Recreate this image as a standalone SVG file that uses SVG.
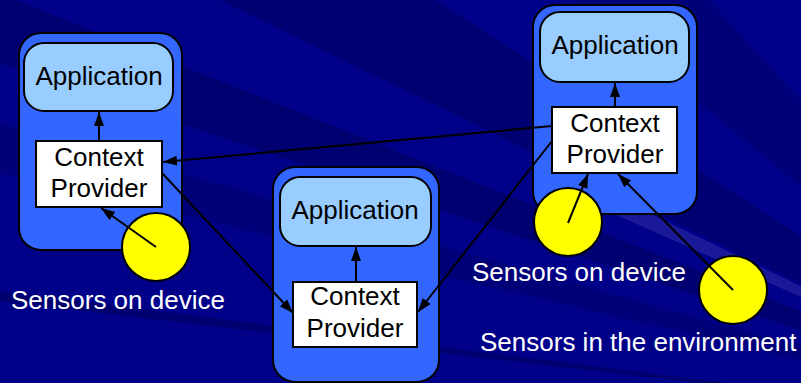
<svg xmlns="http://www.w3.org/2000/svg" width="801" height="383" viewBox="0 0 801 383">
<style>
.dev{fill:#3366FF;stroke:#000;stroke-width:2}
.app{fill:#99CCFF;stroke:#000;stroke-width:2}
.cp{fill:#FFFFFF;stroke:#000;stroke-width:2}
.sen{fill:#FFFF00;stroke:#000;stroke-width:2}
.t{font-family:"Liberation Sans",Arial,sans-serif;font-size:26px;fill:#000;text-anchor:middle}
.lbl{font-family:"Liberation Sans",Arial,sans-serif;font-size:26px;fill:#FFFFFF}
.con line{stroke:#000;stroke-width:2;marker-end:url(#ah)}
</style>
<defs>
<marker id="ah" markerUnits="userSpaceOnUse" markerWidth="15" markerHeight="11" refX="14" refY="5" orient="auto">
<path d="M0,0 L14,5 L0,10 Z" fill="#000"/>
</marker>
</defs>
<g id="background">
<rect width="801" height="383" fill="#000088"/>
<polygon points="1100,430 -10,-10 -10,60" fill="#000066" opacity="0.7"/>
<polygon points="1100,430 200,-10 420,-10" fill="#000066" opacity="0.6"/>
<polygon points="1100,430 -10,120 -10,170" fill="#000070" opacity="0.6"/>
<polygon points="1100,430 560,-10 700,-10" fill="#000070" opacity="0.6"/>
<polygon points="1100,430 -10,290 -10,300" fill="#000060" opacity="0.6"/>
<polygon points="1100,430 560,190 580,180" fill="#6666CC" opacity="0.25"/>
<polygon points="1100,430 820,-10 900,-10" fill="#000070" opacity="0.5"/>
</g>
<g id="device-left">
<rect class="dev" x="19" y="33" width="163" height="217" rx="22"/>
</g>
<g id="device-middle">
<rect class="dev" x="273" y="167" width="166" height="215" rx="22"/>
</g>
<g id="device-right">
<rect class="dev" x="533" y="5" width="164" height="209" rx="22"/>
</g>
<g id="app-left">
<rect class="app" x="24" y="43" width="149" height="68" rx="20"/>
<text class="t" x="99" y="85">Application</text>
</g>
<g id="app-middle">
<rect class="app" x="280" y="177" width="151" height="69" rx="20"/>
<text class="t" x="355" y="219">Application</text>
</g>
<g id="app-right">
<rect class="app" x="540" y="12" width="149" height="70" rx="20"/>
<text class="t" x="615" y="54">Application</text>
</g>
<g id="cp-left">
<rect class="cp" x="36" y="141" width="126" height="66"/>
<text class="t" x="99" y="166">Context</text>
<text class="t" x="99" y="197">Provider</text>
</g>
<g id="cp-middle">
<rect class="cp" x="293" y="282" width="124" height="65"/>
<text class="t" x="355" y="305">Context</text>
<text class="t" x="355" y="337">Provider</text>
</g>
<g id="cp-right">
<rect class="cp" x="552" y="107" width="125" height="66"/>
<text class="t" x="615" y="132">Context</text>
<text class="t" x="615" y="163">Provider</text>
</g>
<g id="sensor-left">
<circle class="sen" cx="156" cy="247" r="34"/>
</g>
<g id="sensor-right">
<circle class="sen" cx="568" cy="222" r="34"/>
</g>
<g id="sensor-env">
<circle class="sen" cx="733" cy="290" r="34"/>
</g>
<g id="connectors" class="con">
<line x1="99" y1="141" x2="99" y2="112"/>
<line x1="356" y1="282" x2="356" y2="247"/>
<line x1="615" y1="107" x2="615" y2="83"/>
<line x1="156" y1="247" x2="101" y2="208"/>
<line x1="568" y1="223" x2="588" y2="174"/>
<line x1="733" y1="290" x2="618" y2="174"/>
<line x1="552" y1="126" x2="163" y2="162"/>
<line x1="162" y1="173" x2="293" y2="313"/>
<line x1="552" y1="141" x2="418" y2="312"/>
</g>
<g id="labels">
<text class="lbl" x="11" y="309">Sensors on device</text>
<text class="lbl" x="472" y="281">Sensors on device</text>
<text class="lbl" x="480" y="351">Sensors in the environment</text>
</g>
</svg>
